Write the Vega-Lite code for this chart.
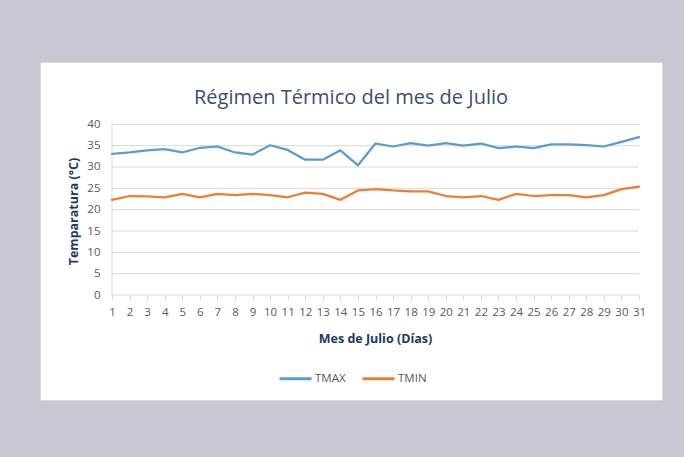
{
  "$schema": "https://vega.github.io/schema/vega-lite/v6.json",
  "width": 622,
  "height": 338,
  "autosize": {"type": "none"},
  "padding": {"left": 40, "top": 62, "right": 22, "bottom": 57},
  "background": "#c8c8d4",
  "view": {"fill": "#ffffff", "stroke": "#d9d9d9"},
  "title": {
    "text": "Régimen Térmico del mes de Julio",
    "anchor": "middle",
    "frame": "group",
    "orient": "top",
    "offset": -46,
    "font": "Open Sans",
    "fontSize": 20,
    "fontWeight": "normal",
    "color": "#3b4e6e"
  },
  "config": {
    "axisX": {
      "offset": -105,
      "grid": false,
      "domain": false,
      "ticks": true,
      "tickColor": "#d9d9d9",
      "tickSize": 5,
      "labelPadding": 6,
      "labelFont": "Open Sans",
      "labelFontSize": 11.5,
      "labelColor": "#595959",
      "labelFlush": false,
      "labelOverlap": false,
      "titleX": 335,
      "titlePadding": 15,
      "titleFont": "Open Sans",
      "titleFontSize": 12.5,
      "titleFontWeight": "bold",
      "titleColor": "#203864"
    },
    "axisY": {
      "offset": -72,
      "grid": false,
      "domain": false,
      "ticks": false,
      "tickSize": 0,
      "labelPadding": 12,
      "labelFont": "Open Sans",
      "labelFontSize": 11.5,
      "labelColor": "#595959",
      "labelFlush": false,
      "titleY": 149,
      "titlePadding": 6,
      "titleFont": "Open Sans",
      "titleFontSize": 12.5,
      "titleFontWeight": "bold",
      "titleColor": "#203864"
    }
  },
  "datasets": {
    "temps": [
      {"dia": 1, "TMAX": 33.1, "TMIN": 22.3},
      {"dia": 2, "TMAX": 33.4, "TMIN": 23.2},
      {"dia": 3, "TMAX": 33.9, "TMIN": 23.1},
      {"dia": 4, "TMAX": 34.2, "TMIN": 22.9},
      {"dia": 5, "TMAX": 33.4, "TMIN": 23.7},
      {"dia": 6, "TMAX": 34.5, "TMIN": 22.9},
      {"dia": 7, "TMAX": 34.8, "TMIN": 23.7},
      {"dia": 8, "TMAX": 33.4, "TMIN": 23.4},
      {"dia": 9, "TMAX": 32.9, "TMIN": 23.7},
      {"dia": 10, "TMAX": 35.1, "TMIN": 23.4},
      {"dia": 11, "TMAX": 34.0, "TMIN": 22.9},
      {"dia": 12, "TMAX": 31.7, "TMIN": 24.0},
      {"dia": 13, "TMAX": 31.7, "TMIN": 23.7},
      {"dia": 14, "TMAX": 33.9, "TMIN": 22.3},
      {"dia": 15, "TMAX": 30.4, "TMIN": 24.5},
      {"dia": 16, "TMAX": 35.5, "TMIN": 24.8},
      {"dia": 17, "TMAX": 34.8, "TMIN": 24.5},
      {"dia": 18, "TMAX": 35.6, "TMIN": 24.3},
      {"dia": 19, "TMAX": 35.0, "TMIN": 24.3},
      {"dia": 20, "TMAX": 35.6, "TMIN": 23.2},
      {"dia": 21, "TMAX": 35.0, "TMIN": 22.9},
      {"dia": 22, "TMAX": 35.5, "TMIN": 23.2},
      {"dia": 23, "TMAX": 34.4, "TMIN": 22.3},
      {"dia": 24, "TMAX": 34.8, "TMIN": 23.7},
      {"dia": 25, "TMAX": 34.4, "TMIN": 23.2},
      {"dia": 26, "TMAX": 35.3, "TMIN": 23.4},
      {"dia": 27, "TMAX": 35.3, "TMIN": 23.4},
      {"dia": 28, "TMAX": 35.1, "TMIN": 22.9},
      {"dia": 29, "TMAX": 34.8, "TMIN": 23.4},
      {"dia": 30, "TMAX": 35.9, "TMIN": 24.8},
      {"dia": 31, "TMAX": 37.0, "TMIN": 25.4}
    ],
    "grid": [
      {"v": 0}, {"v": 5}, {"v": 10}, {"v": 15}, {"v": 20},
      {"v": 25}, {"v": 30}, {"v": 35}, {"v": 40}
    ],
    "eje": [{"eje": "y"}]
  },
  "layer": [
    {
      "data": {"name": "grid"},
      "mark": {"type": "rule", "color": "#d9d9d9", "strokeWidth": 1},
      "encoding": {
        "y": {"field": "v", "type": "quantitative", "title": "Temparatura (°C)",
              "scale": {"domain": [-24.6, 54.6], "nice": false, "zero": false},
              "axis": {"values": [0,5,10,15,20,25,30,35,40]}},
        "x": {"datum": 1, "type": "quantitative", "title": "Mes de Julio (Días)",
              "scale": {"domain": [-3.099, 32.309], "nice": false, "zero": false},
              "axis": {"values": [1,2,3,4,5,6,7,8,9,10,11,12,13,14,15,16,17,18,19,20,21,22,23,24,25,26,27,28,29,30,31]}},
        "x2": {"datum": 31}
      }
    },
    {
      "data": {"name": "eje"},
      "mark": {"type": "rule", "color": "#d9d9d9", "strokeWidth": 1},
      "encoding": {
        "x": {"datum": 1, "type": "quantitative", "title": "Mes de Julio (Días)",
              "scale": {"domain": [-3.099, 32.309], "nice": false, "zero": false},
              "axis": {"values": [1,2,3,4,5,6,7,8,9,10,11,12,13,14,15,16,17,18,19,20,21,22,23,24,25,26,27,28,29,30,31]}},
        "y": {"datum": 0, "type": "quantitative", "title": "Temparatura (°C)",
              "scale": {"domain": [-24.6, 54.6], "nice": false, "zero": false},
              "axis": {"values": [0,5,10,15,20,25,30,35,40]}},
        "y2": {"datum": 40}
      }
    },
    {
      "data": {"name": "temps"},
      "transform": [{"fold": ["TMAX", "TMIN"], "as": ["serie", "temp"]}],
      "mark": {"type": "line", "strokeWidth": 2.25, "strokeCap": "round", "strokeJoin": "round"},
      "encoding": {
        "x": {
          "field": "dia", "type": "quantitative", "title": "Mes de Julio (Días)",
          "scale": {"domain": [-3.099, 32.309], "nice": false, "zero": false},
          "axis": {"values": [1,2,3,4,5,6,7,8,9,10,11,12,13,14,15,16,17,18,19,20,21,22,23,24,25,26,27,28,29,30,31]}
        },
        "y": {
          "field": "temp", "type": "quantitative", "title": "Temparatura (°C)",
          "scale": {"domain": [-24.6, 54.6], "nice": false, "zero": false},
          "axis": {"values": [0,5,10,15,20,25,30,35,40]}
        },
        "color": {
          "field": "serie", "type": "nominal",
          "scale": {"domain": ["TMAX", "TMIN"], "range": ["#5b9bd5", "#ed7d31"]},
          "legend": {
            "title": null,
            "orient": "none",
            "direction": "horizontal",
            "legendX": 238,
            "legendY": 299,
            "padding": 0,
            "symbolType": "stroke",
            "symbolSize": 1024,
            "symbolStrokeWidth": 3,
            "labelOffset": 2,
            "columnPadding": 10,
            "labelFont": "Open Sans",
            "labelFontSize": 11.5,
            "labelColor": "#595959"
          }
        }
      }
    }
  ]
}
